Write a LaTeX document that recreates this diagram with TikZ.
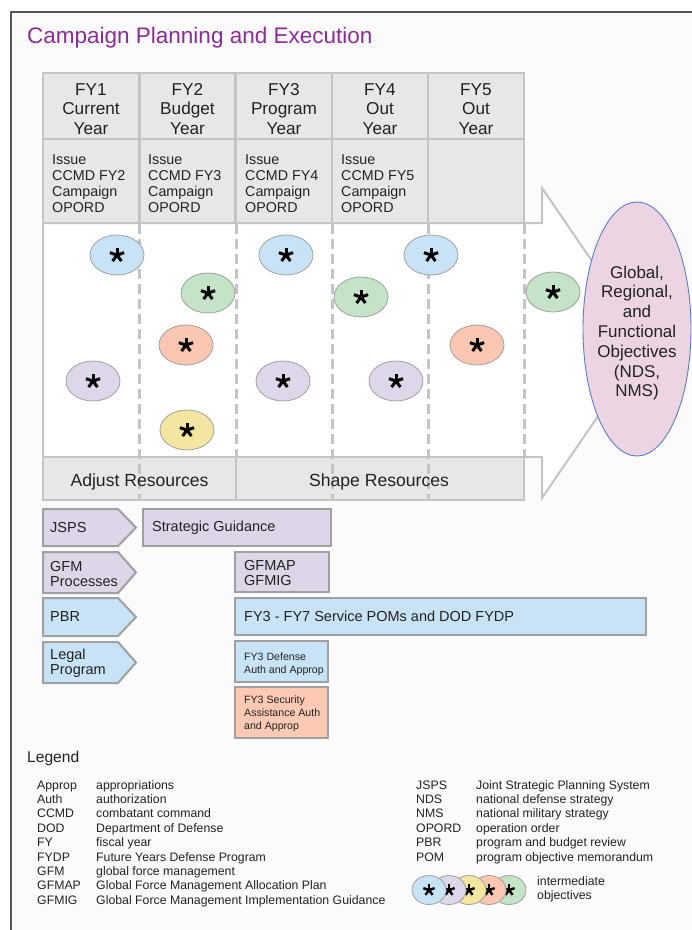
\documentclass[tikz,border=0pt]{standalone}
\usepackage{fontspec}
\setmainfont{Liberation Sans}
\usetikzlibrary{shapes.geometric,calc}

\definecolor{titlecol}{RGB}{140,45,150}
\definecolor{framecol}{RGB}{85,85,85}
\definecolor{pagebg}{RGB}{251,251,251}
\definecolor{cellfill}{RGB}{231,231,233}
\definecolor{cellline}{RGB}{196,196,196}
\definecolor{boxline}{RGB}{160,160,160}
\definecolor{procpurple}{RGB}{221,213,232}
\definecolor{procblue}{RGB}{200,227,245}
\definecolor{procorange}{RGB}{251,201,180}
\definecolor{objblue}{RGB}{200,227,245}
\definecolor{objgreen}{RGB}{197,227,199}
\definecolor{objorange}{RGB}{251,199,178}
\definecolor{objpurple}{RGB}{222,214,233}
\definecolor{objyellow}{RGB}{242,230,160}
\definecolor{goalfill}{RGB}{237,212,227}
\definecolor{goalline}{RGB}{90,125,195}
\definecolor{textcol}{RGB}{34,34,34}

\tikzset{
  cell/.style={rectangle, draw=cellline, line width=2.5pt, fill=cellfill, inner sep=0pt},
  hcell/.style={cell, minimum width=96pt, minimum height=66pt, inner sep=0pt},
  htext/.style={inner sep=0pt, align=center, text=textcol,
    font=\fontsize{17.2}{19.2}\selectfont},
  icell/.style={cell, minimum width=96pt, minimum height=84pt},
  issuetext/.style={inner sep=0pt, align=left, text=textcol,
    font=\fontsize{14.3}{16.2}\selectfont},
  rowtext/.style={inner sep=0pt, text=textcol, font=\fontsize{17.6}{19}\selectfont},
  gridline/.style={draw=cellline, line width=2.5pt},
  dashline/.style={draw=cellline, line width=3pt, dash pattern=on 10pt off 5pt},
  obj/.style={ellipse, draw=boxline, line width=0.8pt, minimum width=54pt,
    minimum height=40pt, inner sep=0pt},
  legobj/.style={ellipse, draw=boxline, line width=0.8pt, minimum width=34pt,
    minimum height=29pt, inner sep=0pt},
  procbox/.style={draw=boxline, line width=2pt},
  proctext/.style={inner sep=0pt, align=left, text=textcol,
    font=\fontsize{14.5}{15}\selectfont},
  smalltext/.style={inner sep=0pt, align=left, text=textcol,
    font=\fontsize{10.6}{13}\selectfont},
  legtext/.style={inner sep=0pt, text=textcol, font=\fontsize{12.3}{14}\selectfont},
  bigast/.pic={\foreach \a in {90,18,162,234,306}
      \draw[line width=3pt, black] (0,0) -- (\a:7.5pt);},
  smallast/.pic={\foreach \a in {90,18,162,234,306}
      \draw[line width=2.4pt, black] (0,0) -- (\a:6pt);},
}

\begin{document}
\begin{tikzpicture}[x=1pt,y=-1pt]
\useasboundingbox (0,0) rectangle (692,930);
\fill[white] (0,0) rectangle (692,930);
\fill[pagebg] (11,12) rectangle (692,930);
\draw[framecol, line width=2.5pt] (11,935) -- (11,12) -- (700,12);

% title
\node[anchor=base west, inner sep=0pt, text=titlecol, font=\fontsize{22.5}{24}\selectfont]
  (title) at (27,43) {Campaign Planning and Execution};

% planning arrow body and head
\draw[gridline, line width=2pt, fill=white] (43,223) -- (542,223) -- (542,188) -- (648,343)
  -- (542,498) -- (542,457) -- (43,457) -- cycle;

% fiscal year header row
\node[hcell] (h1) at (91,106)    {};
\node[hcell] (h2) at (187.5,106) {};
\node[hcell] (h3) at (284,106)   {};
\node[hcell] (h4) at (380,106)   {};
\node[hcell] (h5) at (476,106)   {};
\node[htext] (ht1) at (91,109)    {FY1\\Current\\Year};
\node[htext] (ht2) at (187.5,109) {FY2\\Budget\\Year};
\node[htext] (ht3) at (284,109)   {FY3\\Program\\Year};
\node[htext] (ht4) at (380,109)   {FY4\\Out\\Year};
\node[htext] (ht5) at (476,109)   {FY5\\Out\\Year};

% OPORD row
\node[icell] (c1) at (91,181) {};
\node[icell] (c2) at (187.5,181) {};
\node[icell] (c3) at (284,181) {};
\node[icell] (c4) at (380,181) {};
\node[icell] (c5) at (476,181) {};
\node[issuetext, anchor=north west] (t1) at (52,154) {Issue\\CCMD FY2\\Campaign\\OPORD};
\node[issuetext, anchor=north west] (t2) at (148,154) {Issue\\CCMD FY3\\Campaign\\OPORD};
\node[issuetext, anchor=north west] (t3) at (245,154) {Issue\\CCMD FY4\\Campaign\\OPORD};
\node[issuetext, anchor=north west] (t4) at (341,154) {Issue\\CCMD FY5\\Campaign\\OPORD};

% resources row
\node[cell, minimum width=193pt, minimum height=43pt] (adj) at (139.5,478.5) {};
\node[cell, minimum width=288pt, minimum height=43pt] (shp) at (380,478.5) {};

% year separators
\draw[dashline] (139,224) -- (139,500);
\draw[dashline] (236,224) -- (236,457);
\draw[dashline] (332,224) -- (332,500);
\draw[dashline] (428,224) -- (428,500);
\draw[dashline] (524,224) -- (524,457);
\draw[gridline] (43,222) -- (43,458);

\node[rowtext] (adjt) at (139.5,482) {Adjust Resources};
\node[rowtext] (shpt) at (379,482) {Shape Resources};

% intermediate objectives
\node[obj, fill=objblue]   (o1)  at (117,255) {};
\node[obj, fill=objgreen]  (o2)  at (208,293) {};
\node[obj, fill=objorange] (o3)  at (186,345) {};
\node[obj, fill=objpurple] (o4)  at (93,381) {};
\node[obj, fill=objyellow] (o5)  at (187,430) {};
\node[obj, fill=objblue]   (o6)  at (286,255) {};
\node[obj, fill=objpurple] (o7)  at (283,381) {};
\node[obj, fill=objgreen]  (o8)  at (361,297) {};
\node[obj, fill=objpurple] (o9)  at (396,381) {};
\node[obj, fill=objblue]   (o10) at (431,255) {};
\node[obj, fill=objgreen]  (o11) at (553,292) {};
\node[obj, fill=objorange] (o12) at (477,345) {};
\foreach \n in {o1,o2,o3,o4,o5,o6,o7,o8,o9,o10,o11,o12}
  \pic at (\n.center) {bigast};

% end state
\node[ellipse, draw=goalline, line width=0.9pt, fill=goalfill, minimum width=108pt,
  minimum height=254pt, inner sep=0pt] (goal) at (637,329) {};
\node[inner sep=0pt, align=center, text=textcol, font=\fontsize{17}{19.8}\selectfont]
  (goalt) at (637,333) {Global,\\Regional,\\and\\Functional\\Objectives\\(NDS,\\NMS)};

% process lanes
\draw[procbox, fill=procpurple] (43,509) -- (118,509) -- (136,527.5) -- (118,546) -- (43,546) -- cycle;
\draw[procbox, fill=procpurple] (43,552) -- (118,552) -- (136,572.5) -- (118,593) -- (43,593) -- cycle;
\draw[procbox, fill=procblue]   (43,598) -- (118,598) -- (136,617) -- (118,636) -- (43,636) -- cycle;
\draw[procbox, fill=procblue]   (43,642) -- (118,642) -- (136,662.5) -- (118,683) -- (43,683) -- cycle;
\node[proctext, anchor=west] (jsps) at (50,527.5) {JSPS};
\node[proctext, anchor=west] (gfm)  at (50,574) {GFM\\Processes};
\node[proctext, anchor=west] (pbr)  at (50,617) {PBR};
\node[proctext, anchor=west] (legal) at (50,663) {Legal\\Program};

\draw[procbox, fill=procpurple] (143,509) rectangle (331,546);
\draw[procbox, fill=procpurple] (235,552) rectangle (329,592);
\draw[procbox, fill=procblue]   (235,598) rectangle (646,635);
\draw[procbox, fill=procblue]   (235,641) rectangle (328,682);
\draw[procbox, fill=procorange] (235,687) rectangle (328,738);
\node[proctext, anchor=west] (strat) at (152,527.5) {Strategic Guidance};
\node[proctext, anchor=west] (gfmap) at (244,573) {GFMAP\\GFMIG};
\node[proctext, anchor=west] (pom)   at (244,616.5) {FY3 - FY7 Service POMs and DOD FYDP};
\node[smalltext, anchor=north west] (defn) at (244,653) {FY3 Defense\\Auth and Approp};
\node[smalltext, anchor=north west] (secu) at (244,696) {FY3 Security\\Assistance Auth\\and Approp};

% legend
\node[anchor=base west, inner sep=0pt, text=textcol, font=\fontsize{15.6}{18}\selectfont]
  (legend) at (27,762) {Legend};
\foreach [count=\k from 0] \ab/\de in {Approp/appropriations, Auth/authorization,
    CCMD/combatant command, DOD/Department of Defense, FY/fiscal year,
    FYDP/Future Years Defense Program, GFM/global force management,
    GFMAP/Global Force Management Allocation Plan,
    GFMIG/Global Force Management Implementation Guidance} {
  \node[legtext, anchor=base west] (la\k) at (37,789+14.4*\k) {\ab};
  \node[legtext, anchor=base west] (ld\k) at (96,789+14.4*\k) {\de};
}
\foreach [count=\k from 0] \ab/\de in {JSPS/Joint Strategic Planning System,
    NDS/national defense strategy, NMS/national military strategy,
    OPORD/operation order, PBR/program and budget review,
    POM/program objective memorandum} {
  \node[legtext, anchor=base west] (ra\k) at (416,789+14.4*\k) {\ab};
  \node[legtext, anchor=base west] (rd\k) at (476,789+14.4*\k) {\de};
}
\node[legobj, fill=objgreen]  (lg5) at (509,890) {};
\pic at (lg5.center) {smallast};
\node[legobj, fill=objorange] (lg4) at (489,890) {};
\pic at (lg4.center) {smallast};
\node[legobj, fill=objyellow] (lg3) at (469,890) {};
\pic at (lg3.center) {smallast};
\node[legobj, fill=objpurple] (lg2) at (449,890) {};
\pic at (lg2.center) {smallast};
\node[legobj, fill=objblue]   (lg1) at (429,890) {};
\pic at (lg1.center) {smallast};
\node[legtext, anchor=base west, align=left] (legobjt) at (537,899)
  {intermediate\\objectives};
\end{tikzpicture}
\end{document}
